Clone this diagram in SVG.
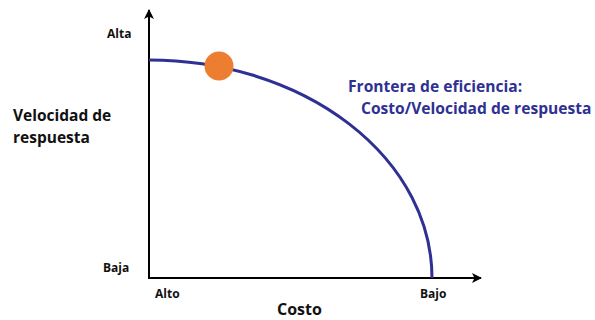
<svg xmlns="http://www.w3.org/2000/svg" width="595" height="320" viewBox="0 0 595 320">
<style>
text{font-family:"Open Sans","Liberation Sans",sans-serif;font-weight:bold;fill:#111}
.s{font-size:12px}
.m{font-size:15.5px}
.c{font-size:16px}
.b{fill:#2E3192;font-size:15.6px}
.ax{stroke:#000;stroke-width:2;fill:none}
</style>
<defs>
<marker id="ah" viewBox="0 0 10 10" refX="9" refY="5" markerWidth="10" markerHeight="10" markerUnits="userSpaceOnUse" orient="auto">
<path d="M0,0 L10,5 L0,10 L2.5,5 Z" fill="#000"/>
</marker>
</defs>
<g id="connectors">
<line class="ax" x1="149" y1="279" x2="149" y2="10" marker-end="url(#ah)"/>
<line class="ax" x1="148" y1="278" x2="481" y2="278" marker-end="url(#ah)"/>
<path d="M149,60 A283,218 0 0 1 432,278" fill="none" stroke="#2E3192" stroke-width="3"/>
</g>
<g id="point"><circle cx="219" cy="66" r="14.5" fill="#ED7D31"/></g>
<g id="labels">
<text class="s" x="107" y="38">Alta</text>
<text class="s" x="103" y="272">Baja</text>
<text class="s" x="155" y="298">Alto</text>
<text class="s" x="420" y="298">Bajo</text>
<text class="c" x="277" y="315">Costo</text>
<text class="m" x="13" y="121">Velocidad de</text>
<text class="m" x="13" y="143">respuesta</text>
<text class="b" x="348" y="92">Frontera de eficiencia:</text>
<text class="b" x="361" y="114">Costo/Velocidad de respuesta</text>
</g>
</svg>
